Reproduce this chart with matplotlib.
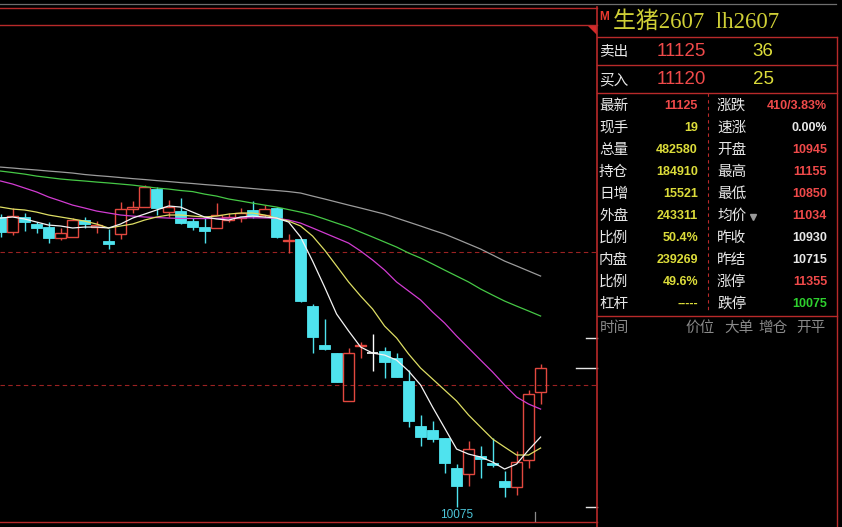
import matplotlib
matplotlib.use("Agg")
import matplotlib.pyplot as plt
from matplotlib.patches import Rectangle, Polygon
from matplotlib.transforms import blended_transform_factory

# ---- hourly bars, lh2607 (live hog) ----
opens = [12265, 12150, 12265, 12215, 12190, 12105, 12115, 12245, 12190, 12085,
         12140, 12325, 12340, 12475, 12305, 12310, 12235, 12190, 12185, 12245,
         12260, 12320, 12280, 12335, 12085, 12100, 11595, 11300, 11240, 10875,
         11295, 11240, 11255, 11200, 11025, 10685, 10655, 10595, 10370, 10325,
         10460, 10405, 10270, 10225, 10430, 10945]
highs = [12290, 12335, 12295, 12230, 12230, 12185, 12260, 12265, 12235, 12175,
         12380, 12385, 12505, 12490, 12395, 12410, 12260, 12260, 12370, 12295,
         12335, 12385, 12355, 12340, 12140, 12100, 11610, 11495, 11240, 11275,
         11320, 11380, 11285, 11240, 11110, 10770, 10725, 10595, 10400, 10575,
         10535, 10595, 10345, 10500, 10960, 11155]
lows = [12115, 12130, 12160, 12145, 12070, 12090, 12115, 12185, 12145, 12025,
        12100, 12295, 12340, 12280, 12265, 12215, 12170, 12070, 12185, 12230,
        12230, 12260, 12265, 12105, 11995, 11625, 11240, 11260, 11020, 10875,
        11200, 11100, 11050, 11055, 10680, 10535, 10565, 10330, 10075, 10235,
        10295, 10375, 10150, 10165, 10370, 10850]
closes = [12150, 12275, 12230, 12185, 12105, 12145, 12245, 12215, 12205, 12060,
          12325, 12340, 12490, 12335, 12340, 12220, 12190, 12160, 12280, 12265,
          12295, 12275, 12325, 12115, 12090, 11630, 11360, 11270, 11020, 11240,
          11300, 11240, 11170, 11055, 10725, 10605, 10590, 10405, 10235, 10515,
          10440, 10390, 10225, 10415, 10930, 11125]

# moving averages
ma5 = [12258, 12266, 12251, 12228, 12205, 12198, 12183, 12190, 12190, 12183,
       12213, 12258, 12288, 12319, 12349, 12341, 12303, 12266, 12251, 12243,
       12266, 12273, 12266, 12258, 12228, 12115, 11933, 11737, 11533, 11405,
       11284, 11238, 11223, 11185, 11102, 10997, 10830, 10672, 10513, 10475,
       10453, 10415, 10362, 10400, 10506, 10604]
ma10 = [12341, 12326, 12319, 12303, 12281, 12266, 12251, 12235, 12213, 12183,
        12198, 12213, 12243, 12266, 12281, 12281, 12273, 12266, 12273, 12288,
        12296, 12296, 12281, 12258, 12235, 12198, 12122, 12016, 11896, 11775,
        11669, 11571, 11442, 11352, 11231, 11125, 11042, 10959, 10876, 10770,
        10679, 10589, 10528, 10468, 10468, 10521]
ma20 = [12538, 12515, 12485, 12455, 12417, 12387, 12356, 12334, 12311, 12296,
        12281, 12273, 12266, 12262, 12258, 12255, 12255, 12254, 12256, 12258,
        12260, 12260, 12259, 12257, 12243, 12220, 12183, 12145, 12107, 12069,
        12009, 11941, 11865, 11775, 11707, 11639, 11548, 11465, 11367, 11276,
        11185, 11095, 10997, 10906, 10853, 10815]
ma40 = [12613, 12602, 12590, 12575, 12564, 12553, 12545, 12538, 12530, 12523,
        12515, 12507, 12496, 12485, 12477, 12466, 12458, 12439, 12424, 12402,
        12387, 12371, 12356, 12341, 12322, 12303, 12281, 12251, 12220, 12190,
        12152, 12115, 12077, 12039, 11994, 11956, 11911, 11865, 11820, 11775,
        11722, 11676, 11631, 11593, 11556, 11518]
ma60 = [12643, 12636, 12628, 12621, 12613, 12606, 12598, 12587, 12579, 12572,
        12564, 12556, 12549, 12541, 12534, 12526, 12519, 12511, 12504, 12496,
        12489, 12481, 12473, 12466, 12458, 12447, 12424, 12402, 12379, 12356,
        12334, 12311, 12288, 12258, 12228, 12198, 12167, 12137, 12100, 12062,
        12024, 11979, 11933, 11896, 11858, 11820]

grid_prices = [12000, 11000]

# ---- quote board ----
title = "生猪2607  lh2607"
ask_price, ask_vol = "11125", "36"
bid_price, bid_vol = "11120", "25"
left_labels = ["最新", "现手", "总量", "持仓", "日增", "外盘", "比例", "内盘", "比例", "杠杆"]
left_values = ["11125", "19", "482580", "184910", "15521", "243311", "50.4%", "239269", "49.6%", "-----"]
right_labels = ["涨跌", "速涨", "开盘", "最高", "最低", "均价", "昨收", "昨结", "涨停", "跌停"]
right_values = ["410/3.83%", "0.00%", "10945", "11155", "10850", "11034", "10930", "10715", "11355", "10075"]
tick_headers = ["时间", "价位", "大单", "增仓", "开平"]

LAST = 11125
LIMIT_UP = 11355
LIMIT_DOWN = 10075

# ---- colours ----
BG = "black"
RED = "#e2483f"
CYAN = "#4fe3ee"
FRAME = "#b82a2a"
TXT_WHITE = "#e8e8e8"
TXT_RED = "#f04a4a"
TXT_YEL = "#dcdc3a"
TXT_GRN = "#2ed12e"
TITLE_YEL = "#cfcf36"
GRAY_TXT = "#8a8a8a"

left_colors = [TXT_RED] + [TXT_YEL] * 9
right_colors = [TXT_RED, TXT_WHITE, TXT_RED, TXT_RED, TXT_RED, TXT_RED,
                TXT_WHITE, TXT_WHITE, TXT_RED, TXT_GRN]

CJK = ["Noto Sans CJK SC", "DejaVu Sans"]
NUM = ["Liberation Sans", "DejaVu Sans"]
SERIF = ["Liberation Serif", "Noto Sans CJK SC"]

W, H = 842, 527
fig = plt.figure(figsize=(W / 100, H / 100), dpi=100, facecolor=BG)

# ---- price chart ----
ax = fig.add_axes([0, (H - 522) / H, 597 / W, (522 - 24) / H], zorder=1)
ax.set_facecolor(BG)
ax.set_xlim(-0.05, 49.7)
ax.set_ylim(9962, 13724)
ax.axis("off")

for p in grid_prices:
    ax.axhline(p, color="#9a2222", lw=0.8, ls=(0, (4, 3)), zorder=1)

bw = 0.88
for i, (o, h, l, c) in enumerate(zip(opens, highs, lows, closes)):
    if c > o:
        ax.vlines(i, c, h, color=RED, lw=1.0, zorder=2)
        ax.vlines(i, l, o, color=RED, lw=1.0, zorder=2)
        ax.add_patch(Rectangle((i - bw / 2, o), bw, c - o, fill=False,
                               edgecolor=RED, lw=1.0, zorder=2))
    elif c < o:
        ax.vlines(i, l, h, color=CYAN, lw=1.0, zorder=2)
        ax.add_patch(Rectangle((i - bw / 2, c), bw, o - c, facecolor=CYAN,
                               edgecolor=CYAN, lw=0.6, zorder=2))
    else:
        ax.vlines(i, l, h, color="white", lw=1.0, zorder=2)
        ax.hlines(o, i - bw / 2, i + bw / 2, color="white", lw=1.2, zorder=2)

xs = list(range(len(closes)))
for series, col in [(ma60, "#9c9c9c"), (ma40, "#46c846"), (ma20, "#d23cd2"),
                    (ma10, "#dede64"), (ma5, "#f4f4f4")]:
    ax.plot(xs, series, color=col, lw=0.9, zorder=3)

# lowest price label
imin = lows.index(min(lows))
ax.annotate(str(min(lows)), xy=(imin, min(lows)), xytext=(0, -5.5),
            textcoords="offset points", ha="center", va="center",
            color="#4cc6da", fontsize=8.5, family=NUM, zorder=4)

# price markers on the right edge
tr = blended_transform_factory(ax.transAxes, ax.transData)
for p, x0 in [(LIMIT_UP, 0.982), (LAST, 0.965), (LIMIT_DOWN, 0.982)]:
    ax.plot([x0, 1.0], [p, p], color="#e6e6e6", lw=1.0, transform=tr,
            clip_on=False, zorder=4)

# ---- frame and quote board (pixel overlay) ----
ov = fig.add_axes([0, 0, 1, 1], zorder=2)
ov.set_xlim(0, W)
ov.set_ylim(H, 0)
ov.axis("off")
ov.patch.set_alpha(0)

def hline(y, x0, x1, **kw):
    ov.plot([x0, x1], [y, y], **kw)

def vline(x, y0, y1, **kw):
    ov.plot([x, x], [y0, y1], **kw)

hline(4, 0, 836, color="#6e6e6e", lw=0.9)
hline(7.5, 0, 597, color=FRAME, lw=1.0)
hline(24.5, 0, 597, color=FRAME, lw=1.0)
hline(522, 0, 597, color=FRAME, lw=1.0)
vline(597, 7, H, color=FRAME, lw=1.2)
ov.add_patch(Polygon([[587, 24.5], [597, 24.5], [597, 35]], closed=True,
                     facecolor="#d22a2a", edgecolor="none"))
vline(535, 512, 521, color="#8a8a8a", lw=0.9)

for y in [37, 65, 93, 316]:
    hline(y, 597, 837, color=FRAME, lw=1.0)
vline(837, 37, H, color=FRAME, lw=1.0)
vline(708, 93, 313, color=FRAME, lw=0.8, ls=(0, (3, 3)))

def txt(x, y, s, color, size, ha="left", family=CJK, weight="normal"):
    ov.text(x, y, s, color=color, fontsize=size, ha=ha, va="center",
            family=family, weight=weight)

txt(599.5, 17, "M", "#e8382e", 8.5, family=NUM, weight="bold")
txt(613, 22, title, TITLE_YEL, 16.5, family=SERIF)

txt(599, 52, "卖出", TXT_WHITE, 10.5)
txt(706, 52, ask_price, TXT_RED, 13.5, ha="right", family=NUM)
txt(763, 52, ask_vol, TXT_YEL, 13.5, ha="center", family=NUM)
txt(599, 80, "买入", TXT_WHITE, 10.5)
txt(706, 80, bid_price, TXT_RED, 13.5, ha="right", family=NUM)
txt(763, 80, bid_vol, TXT_YEL, 13.5, ha="center", family=NUM)

for k in range(len(left_labels)):
    y = 106 + 22 * k
    txt(599, y, left_labels[k], TXT_WHITE, 10.5)
    txt(698, y, left_values[k], left_colors[k], 9, ha="right", family=NUM, weight="bold")
    txt(717, y, right_labels[k], TXT_WHITE, 10.5)
    txt(827, y, right_values[k], right_colors[k], 9, ha="right", family=NUM, weight="bold")

ov.plot([753], [106 + 22 * 5 + 1], marker="v", color="#9a9a9a", markersize=5)

for s, x in zip(tick_headers, [600, 685, 724, 758, 796]):
    txt(x, 328, s, GRAY_TXT, 10.5)

fig.savefig("out.png", dpi=100, facecolor=BG)
